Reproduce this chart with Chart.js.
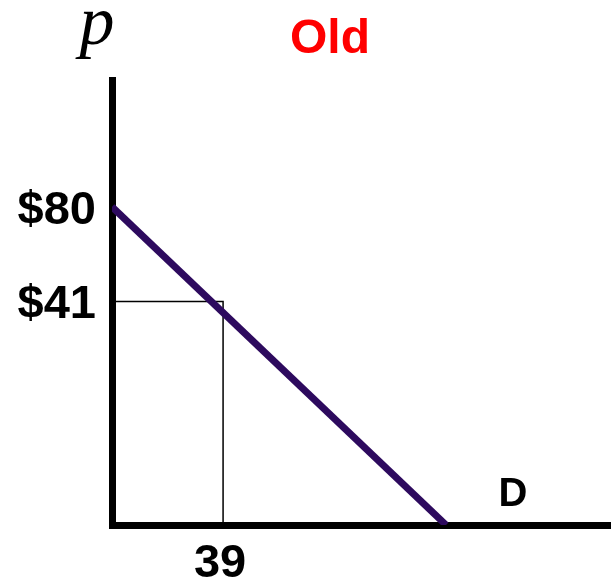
<!DOCTYPE html>
<html>
<head>
<meta charset="utf-8">
<script src="https://cdn.jsdelivr.net/npm/chart.js@4"></script>
<style>
  html, body { margin: 0; padding: 0; background: #fff; }
  #wrap { width: 611px; height: 586px; }
</style>
</head>
<body>
<div id="wrap"><canvas id="chart" width="611" height="586"></canvas></div>
<script>
// Demand curve (schematic, as drawn)
var demandQ = [0, 80];
var demandP = [80, 0];

// Guide lines to the marked point (positions as drawn on the axes)
var guideQ = [0, 26.6, 26.6];
var guideP = [56.2, 56.2, 0];

// Tick labels
var priceTickValues = [80, 56.2];
var priceTickLabels = ["$80", "$41"];
var qtyTickValues   = [26.6];
var qtyTickLabels   = ["39"];

var SANS = "'Liberation Sans', Arial, sans-serif";

function toPoints(xs, ys) {
  var pts = [];
  for (var i = 0; i < xs.length; i++) pts.push({ x: xs[i], y: ys[i] });
  return pts;
}

// Extra text: "p", "Old", "D"
var labelsPlugin = {
  id: "extraLabels",
  afterDraw: function (chart) {
    var ctx = chart.ctx;
    var xs = chart.scales.x;
    var ys = chart.scales.y;
    ctx.save();

    ctx.fillStyle = "#000";
    ctx.font = "italic 70px 'Liberation Serif', 'Times New Roman', serif";
    ctx.textAlign = "center";
    ctx.textBaseline = "alphabetic";
    ctx.fillText("p", 97, 44);

    ctx.fillStyle = "#ff0000";
    ctx.font = "bold 48px " + SANS;
    ctx.fillText("Old", 330, 53);

    ctx.fillStyle = "#000";
    ctx.font = "bold 40px " + SANS;
    ctx.textBaseline = "middle";
    ctx.fillText("D", xs.getPixelForValue(96), ys.getPixelForValue(7.5));

    ctx.restore();
  }
};

var chart = new Chart(document.getElementById("chart"), {
  type: "scatter",
  data: {
    datasets: [
      {
        data: toPoints(demandQ, demandP),
        showLine: true,
        borderColor: "#2d0a5e",
        borderWidth: 7,
        pointRadius: 0
      },
      {
        data: toPoints(guideQ, guideP),
        showLine: true,
        borderColor: "#000",
        borderWidth: 1.5,
        pointRadius: 0
      }
    ]
  },
  options: {
    responsive: false,
    animation: false,
    devicePixelRatio: 1,
    layout: { padding: { top: 80, right: 0, left: 0, bottom: 0 } },
    plugins: {
      legend: { display: false },
      tooltip: { enabled: false }
    },
    scales: {
      x: {
        type: "linear",
        min: 0,
        max: 119.5,
        z: 1,
        grid: { display: false, drawTicks: false },
        border: { display: true, color: "#000", width: 7 },
        afterBuildTicks: function (axis) {
          axis.ticks = qtyTickValues.map(function (v) { return { value: v }; });
        },
        afterFit: function (axis) { axis.height = 61; },
        ticks: {
          padding: 11,
          labelOffset: -3,
          color: "#000",
          font: { family: SANS, size: 47, weight: "bold" },
          maxRotation: 0,
          autoSkip: false,
          callback: function (value, index) { return qtyTickLabels[index]; }
        }
      },
      y: {
        type: "linear",
        min: 0,
        max: 111.9,
        z: 1,
        grid: { display: false, drawTicks: false },
        border: { display: true, color: "#000", width: 7 },
        afterBuildTicks: function (axis) {
          axis.ticks = priceTickValues.map(function (v) { return { value: v }; });
        },
        afterFit: function (axis) { axis.width = 112; },
        ticks: {
          padding: 16,
          labelOffset: 4,
          color: "#000",
          font: { family: SANS, size: 47, weight: "bold" },
          autoSkip: false,
          callback: function (value, index) { return priceTickLabels[index]; }
        }
      }
    }
  },
  plugins: [labelsPlugin]
});
</script>
</body>
</html>
